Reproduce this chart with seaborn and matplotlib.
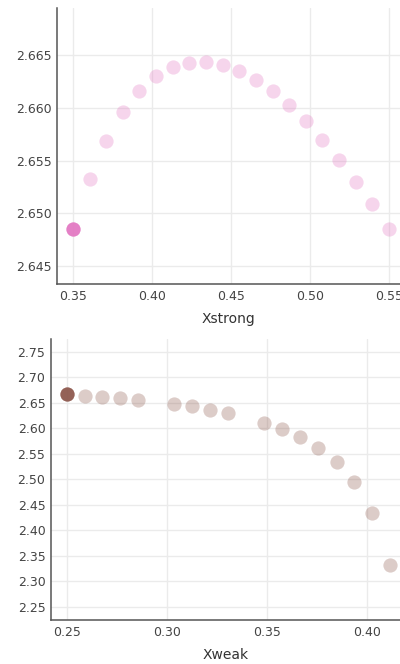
import matplotlib
matplotlib.use('Agg')
import matplotlib.pyplot as plt
import seaborn as sns
import pandas as pd

# data
xstrong = [0.35, 0.3605, 0.3711, 0.3816, 0.3921, 0.4026, 0.4132, 0.4237, 0.4342, 0.4447,
           0.4553, 0.4658, 0.4763, 0.4868, 0.4974, 0.5079, 0.5184, 0.5289, 0.5395, 0.55]
ystrong = [2.6485, 2.6533, 2.6569, 2.6596, 2.6616, 2.6630, 2.6639, 2.6643, 2.6644, 2.6641,
           2.6635, 2.6627, 2.6616, 2.6603, 2.6588, 2.6570, 2.6551, 2.6530, 2.6509, 2.6485]

xweak = [0.25, 0.259, 0.2678, 0.2767, 0.2855, 0.3035, 0.3125, 0.3217, 0.3308,
         0.3487, 0.3577, 0.3667, 0.3758, 0.385, 0.3938, 0.4027, 0.4117]
yweak = [2.6665, 2.6637, 2.6618, 2.6586, 2.6559, 2.648, 2.6429, 2.6363, 2.6298,
         2.6108, 2.5984, 2.5827, 2.5618, 2.5337, 2.4939, 2.4337, 2.3318]

strong_ticks = [0.35, 0.40, 0.45, 0.50, 0.55]
strong_yticks = [2.645, 2.650, 2.655, 2.660, 2.665]
weak_ticks = [0.25, 0.30, 0.35, 0.40]
weak_yticks = [2.25, 2.30, 2.35, 2.40, 2.45, 2.50, 2.55, 2.60, 2.65, 2.70, 2.75]

sns.set_style('whitegrid', {'grid.color': '#ebebeb', 'axes.edgecolor': '#555555'})
plt.rcParams['font.family'] = ['DejaVu Sans']

fig = plt.figure(figsize=(4, 6.64), dpi=100)
ax1 = fig.add_axes([0.1425, 0.5723, 0.8575, 0.4157])
ax2 = fig.add_axes([0.1275, 0.0663, 0.8725, 0.4232])

df_s = pd.DataFrame({'Xstrong': xstrong, 'y': ystrong})
df_w = pd.DataFrame({'Xweak': xweak, 'y': yweak})


def draw(ax, df, xcol, color, xticks, yticks, xlim, ylim, yfmt):
    sns.scatterplot(data=df, x=xcol, y='y', ax=ax, color=color, alpha=0.3,
                    s=105, linewidth=0)
    # the first point is the highlighted one
    sns.scatterplot(data=df.iloc[:1], x=xcol, y='y', ax=ax, color=color, alpha=0.9,
                    s=105, linewidth=0)
    ax.set_xlim(*xlim)
    ax.set_ylim(*ylim)
    ax.set_xticks(xticks)
    ax.set_yticks(yticks)
    ax.set_xticklabels([f'{t:.2f}' for t in xticks])
    ax.set_yticklabels([yfmt.format(t) for t in yticks])
    ax.set_ylabel('')
    ax.set_xlabel(xcol, fontsize=10, color='#333333', labelpad=7)
    ax.tick_params(length=0, labelsize=9, colors='#444444', pad=4)
    for side in ['top', 'right']:
        ax.spines[side].set_visible(False)
    for side in ['left', 'bottom']:
        ax.spines[side].set_linewidth(1.1)
        ax.spines[side].set_color('#555555')
    ax.grid(True, color='#ebebeb', linewidth=1)


draw(ax1, df_s, 'Xstrong', '#e377c2', strong_ticks, strong_yticks,
     (0.3399, 0.557), (2.6433, 2.6695), '{:.3f}')
draw(ax2, df_w, 'Xweak', '#8c564b', weak_ticks, weak_yticks,
     (0.2422, 0.4167), (2.224, 2.775), '{:.2f}')

fig.savefig('out.png', dpi=100)
